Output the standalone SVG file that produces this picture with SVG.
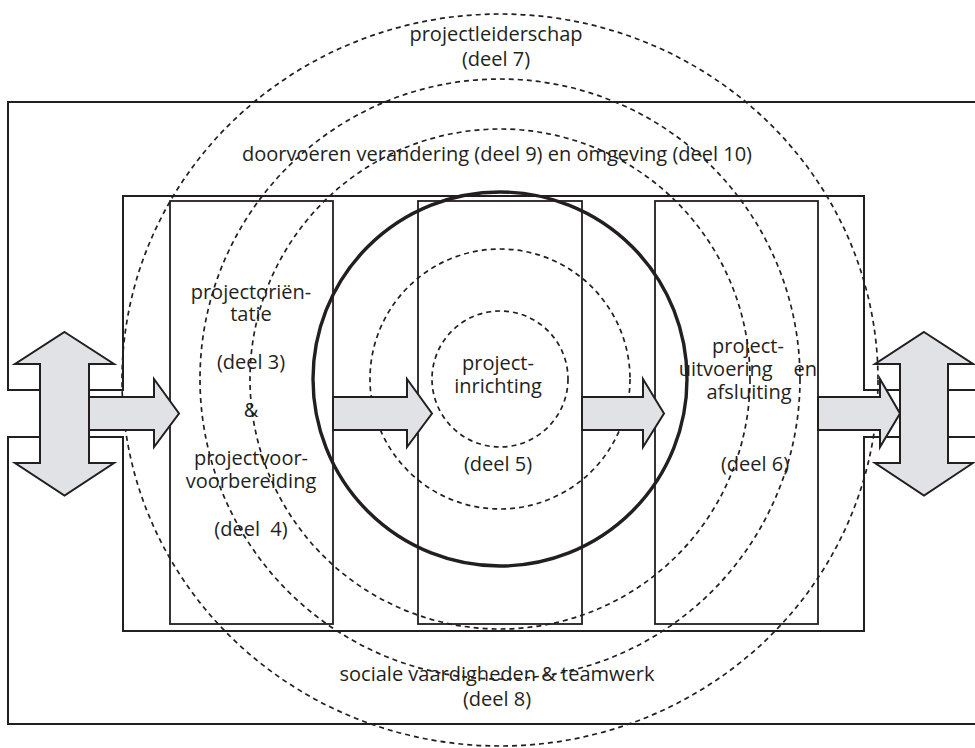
<svg xmlns="http://www.w3.org/2000/svg" width="975" height="748" viewBox="0 0 975 748">
<style>
.frame{fill:none;stroke:#231f20;stroke-width:2}
.col{fill:none;stroke:#231f20;stroke-width:1.8}
.dash{fill:none;stroke:#231f20;stroke-width:1.7;stroke-dasharray:5 4}
.thick{fill:none;stroke:#231f20;stroke-width:3.4}
.arrow{fill:#e1e2e6;stroke:#231f20;stroke-width:2;stroke-linejoin:miter}
text{font-family:"Open Sans","Noto Sans","Liberation Sans",sans-serif;font-size:20px;fill:#231f20;text-anchor:middle}
</style>
<rect width="975" height="748" fill="#ffffff"/>
<g id="frame">
<path class="frame" d="M8 390 V102 H978 V390 H864 V196 H123 V390 Z"/>
<path class="frame" d="M8 437 V724 H978 V437 H864 V631 H123 V437 Z"/>
</g>
<g id="col-left"><rect class="col" x="170" y="201" width="163" height="423"/>
<text x="251" y="299">projectoriën-</text>
<text x="251" y="321">tatie</text>
<text x="251" y="369">(deel 3)</text>
<text x="251" y="417">&amp;</text>
<text x="251" y="465">projectvoor-</text>
<text x="251" y="488">voorbereiding</text>
<text x="251" y="536" xml:space="preserve">(deel  4)</text>
</g>
<g id="col-mid"><rect class="col" x="418" y="201" width="164" height="423"/>
<text x="498" y="370">project-</text>
<text x="498" y="393">inrichting</text>
<text x="498" y="471">(deel 5)</text>
</g>
<g id="col-right"><rect class="col" x="655" y="201" width="163" height="423"/>
<text x="748" y="353">project-</text>
<text x="817" y="376" style="text-anchor:end" xml:space="preserve">uitvoering    en</text>
<text x="749" y="399">afsluiting</text>
<text x="755" y="471">(deel 6)</text>
</g>
<g id="circles">
<ellipse class="dash" cx="500" cy="380" rx="378" ry="366"/>
<circle class="dash" cx="500" cy="379" r="300"/>
<circle class="dash" cx="500" cy="379" r="250"/>
<circle class="thick" cx="500" cy="379" r="187"/>
<circle class="dash" cx="500" cy="379" r="130"/>
<circle class="dash" cx="500" cy="379" r="68"/>
</g>
<g id="labels">
<text x="496" y="41">projectleiderschap</text>
<text x="496" y="66">(deel 7)</text>
<text x="497" y="161">doorvoeren verandering (deel 9) en omgeving (deel 10)</text>
<text x="497" y="681">sociale vaardigheden &amp; teamwerk</text>
<text x="497" y="706">(deel 8)</text>
</g>
<g id="connectors">
<path class="arrow" d="M89 397 H154 V379 L179 413.5 L154 447 V430 H89 Z"/>
<path class="arrow" d="M333 397 H407 V379 L432 413.5 L407 447 V430 H333 Z"/>
<path class="arrow" d="M582 397 H643 V379 L664 413.5 L643 447 V430 H582 Z"/>
<path class="arrow" d="M818 397 H880 V379 L900 413.5 L880 447 V430 H818 Z"/>
<path class="arrow" d="M64.5 332 L114 364 H89 V463 H114 L64.5 495.5 L15 463 H40 V364 H15 Z"/>
<path class="arrow" d="M924 332 L973 364 H948 V463 H973 L924 495.5 L875 463 H900 V364 H875 Z"/>
</g>
</svg>
